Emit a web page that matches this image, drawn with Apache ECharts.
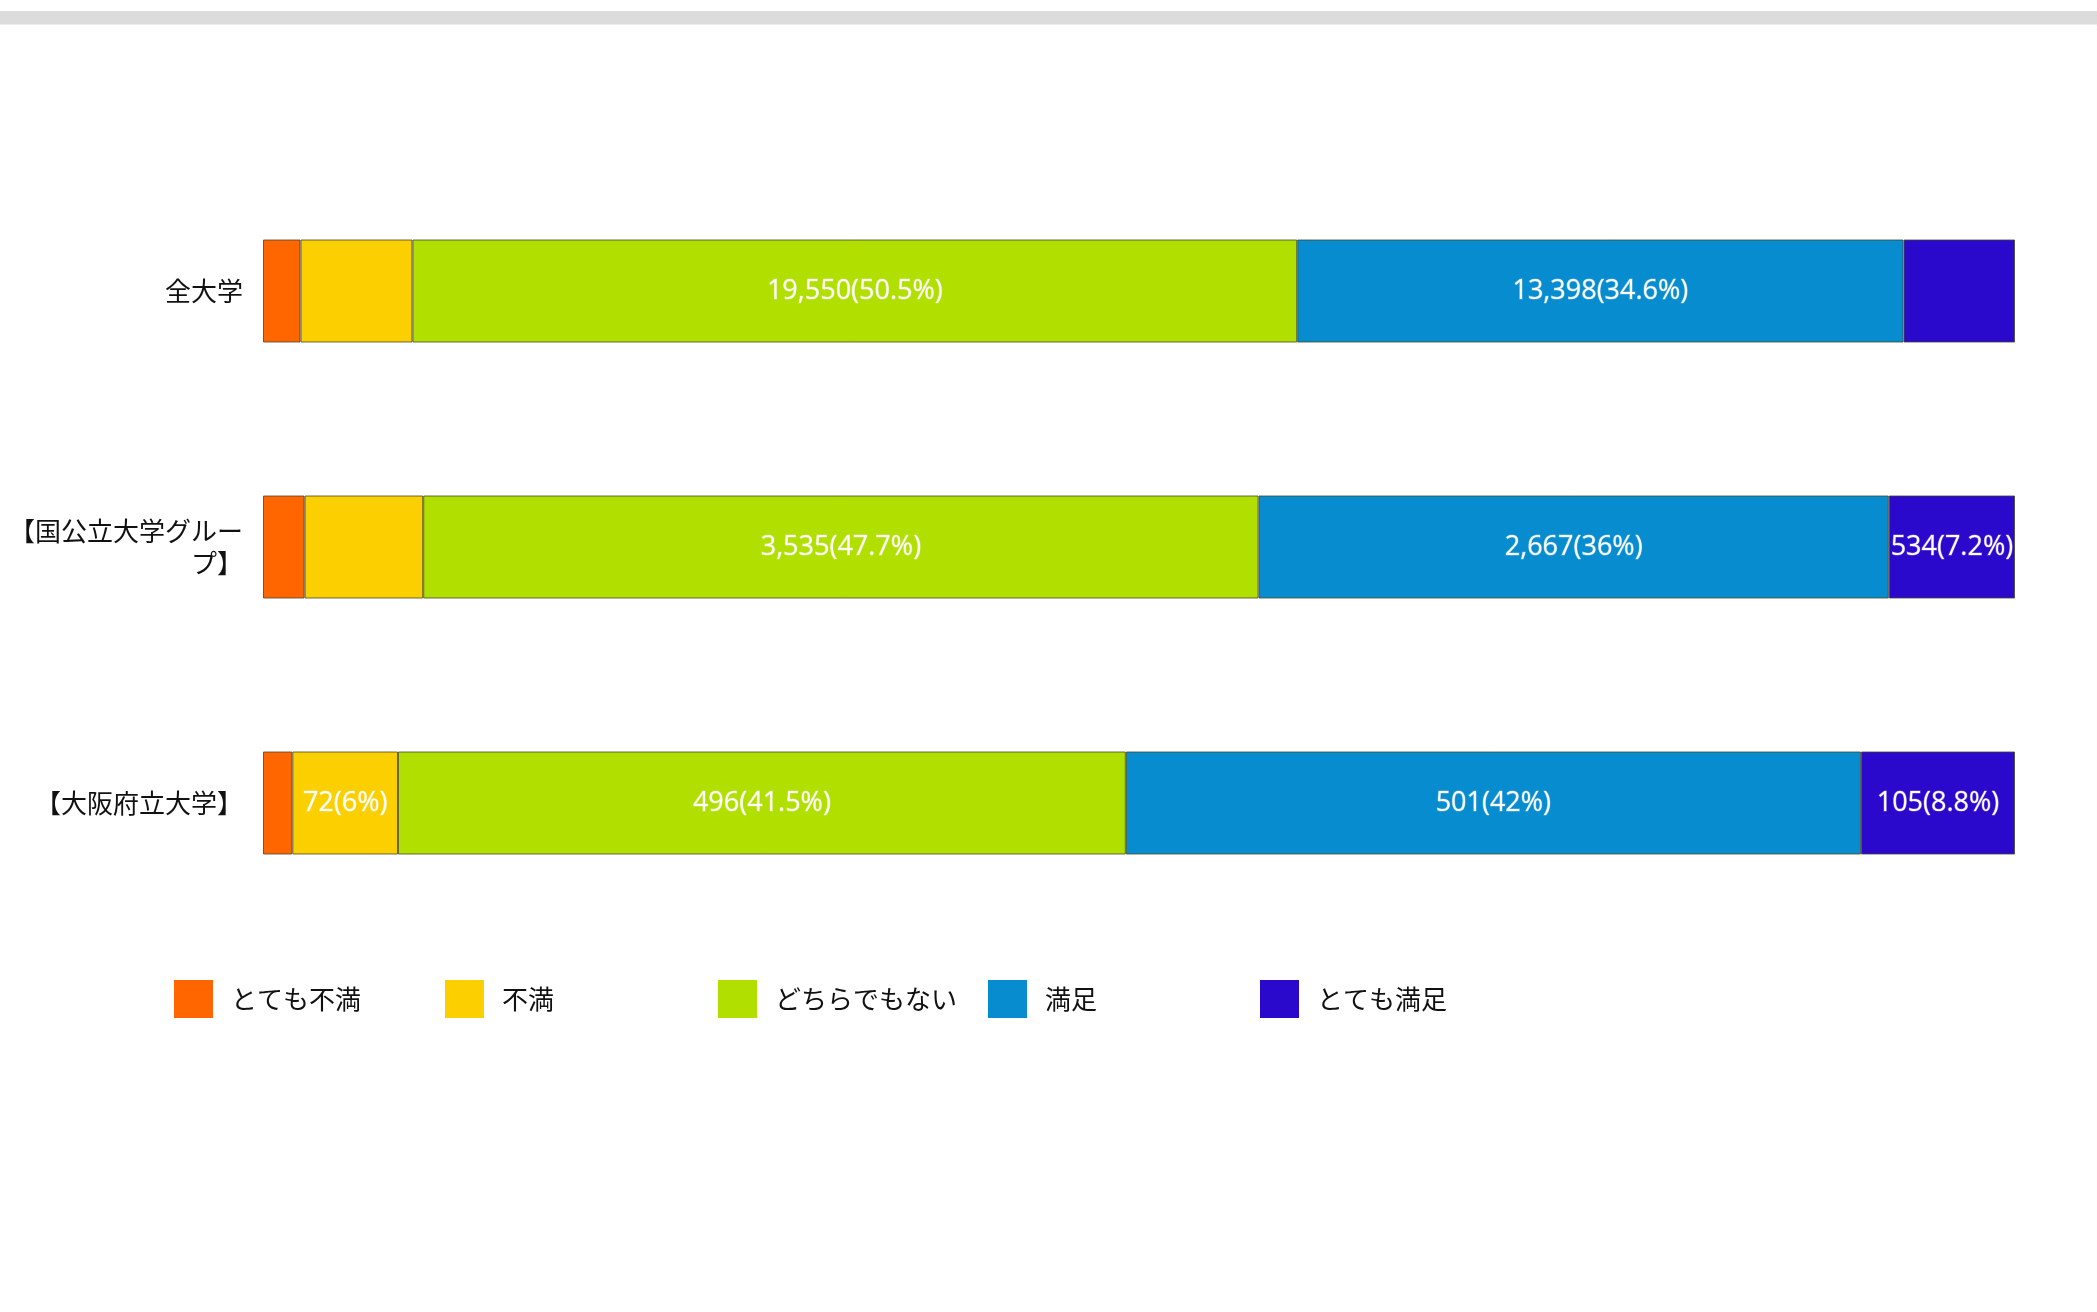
<!DOCTYPE html>
<html>
<head>
<meta charset="utf-8">
<script src="https://cdn.jsdelivr.net/npm/echarts@6/dist/echarts.min.js"></script>
<style>
html,body{margin:0;padding:0;background:#fff;}
#chart{width:2097px;height:1312px;}
</style>
</head>
<body>
<div id="chart"></div>
<script>
// Data
const categories = ['全大学', '【国公立大学グループ】', '【大阪府立大学】'];
const seriesNames = ['とても不満', '不満', 'どちらでもない', '満足', 'とても満足'];
const veryDissatisfied = [828, 176, 20];
const dissatisfied = [2474, 502, 72];
const neutral = [19550, 3535, 496];
const satisfied = [13398, 2667, 501];
const verySatisfied = [2463, 534, 105];
const seriesValues = [veryDissatisfied, dissatisfied, neutral, satisfied, verySatisfied];

const colors = ['#ff6600', '#fbcf00', '#b0df00', '#078ccf', '#2a08cc'];

const totals = categories.map((c, i) => seriesValues.reduce((s, arr) => s + arr[i], 0));

const gridLeft = 262, gridRight = 82, gridTop = 163, gridHeight = 768;
const chartWidth = 2097;
const plotWidth = chartWidth - gridLeft - gridRight;
const labelFont = '27px "Open Sans"';

const measureCtx = document.createElement('canvas').getContext('2d');
measureCtx.font = labelFont;

function fmtPct(v) {
  let s = (Math.round(v * 10) / 10).toFixed(1);
  if (s.endsWith('.0')) s = s.slice(0, -2);
  return s;
}

const series = seriesNames.map((name, si) => ({
  name: name,
  type: 'bar',
  stack: 'total',
  barWidth: 103,
  itemStyle: { color: colors[si], borderColor: 'rgba(70,70,40,0.8)', borderWidth: 1 },
  label: {
    show: true,
    position: 'inside',
    color: '#fff',
    fontFamily: 'Open Sans',
    fontSize: 27,
    textBorderColor: 'rgba(255,255,255,0.35)',
    textBorderWidth: 1,
    formatter: function (p) {
      const raw = seriesValues[si][p.dataIndex];
      const pct = raw / totals[p.dataIndex] * 100;
      const txt = raw.toLocaleString('en-US') + '(' + fmtPct(pct) + '%)';
      const segW = pct / 100 * plotWidth;
      const tw = measureCtx.measureText(txt).width;
      return tw <= segW ? txt : '';
    }
  },
  emphasis: { disabled: true },
  data: seriesValues[si].map((v, i) => v / totals[i] * 100)
}));

const legendLefts = [174, 445, 718, 988, 1260];
const legends = seriesNames.map((name, i) => ({
  data: [name],
  left: legendLefts[i],
  top: 980,
  padding: 0,
  icon: 'rect',
  itemWidth: 39,
  itemHeight: 38,
  selectedMode: false,
  itemStyle: { borderWidth: 0 },
  textStyle: {
    fontFamily: 'Noto Sans CJK JP',
    fontSize: 26,
    color: '#111',
    padding: [0, 0, 0, 13]
  }
}));

const chart = echarts.init(document.getElementById('chart'));
chart.setOption({
  backgroundColor: '#ffffff',
  animation: false,
  color: colors,
  graphic: [
    { type: 'rect', left: 0, top: 11, shape: { width: 2097, height: 13 }, style: { fill: '#dcdcdc' } },
    { type: 'rect', left: 0, top: 24, shape: { width: 2097, height: 1 }, style: { fill: '#ececec' } }
  ],
  legend: legends,
  grid: { left: gridLeft, right: gridRight, top: gridTop, height: gridHeight, containLabel: false },
  xAxis: {
    type: 'value', min: 0, max: 100, show: false
  },
  yAxis: {
    type: 'category',
    inverse: true,
    data: categories,
    axisLine: { show: false },
    axisTick: { show: false },
    axisLabel: {
      margin: 20,
      fontFamily: 'Noto Sans CJK JP',
      fontSize: 26,
      color: '#111',
      width: 240,
      overflow: 'break',
      align: 'right',
      lineHeight: 32
    }
  },
  series: series
});
</script>
</body>
</html>
